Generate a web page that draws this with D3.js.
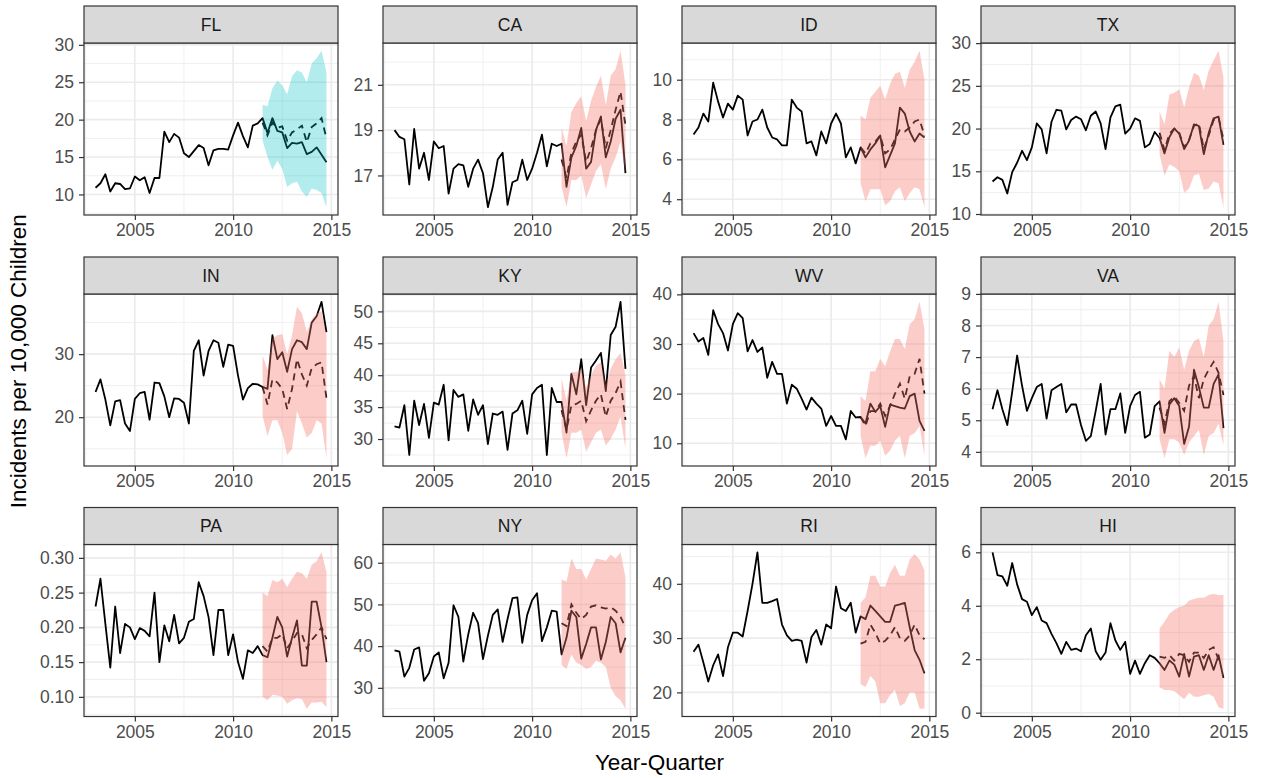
<!DOCTYPE html>
<html>
<head>
<meta charset="utf-8">
<script src="https://cdn.jsdelivr.net/npm/d3@7"></script>
<style>
  body { margin: 0; background: #fff; }
  svg text { font-family: "Liberation Sans", Arial, Helvetica, sans-serif; }
</style>
</head>
<body>
<svg id="chart" width="1267" height="778"></svg>
<script>
var width = 1267;
var height = 778;

// quarterly series 2003 Q1 .. 2014 Q4, forecast from 2011 Q3
var states = ["FL", "CA", "ID", "TX", "IN", "KY", "WV", "VA", "PA", "NY", "RI", "HI"];
var xTicks = [2005, 2010, 2015];

var FL_obs = [10.9, 11.5, 12.7, 10.4, 11.5, 11.4, 10.7, 10.8, 12.4, 11.9, 12.3, 10.2, 12.2, 12.2, 18.4, 17.0, 18.1, 17.6, 15.5, 15.0, 15.8, 16.6, 16.2, 13.9, 15.9, 16.1, 16.1, 16.0, 17.9, 19.6, 17.8, 16.3, 19.2, 19.5, 20.2, 18.2, 20.2, 18.5, 18.3, 16.2, 16.9, 16.8, 17.0, 15.4, 15.7, 16.3, 15.3, 14.3];
var FL_fit = [19.6, 17.9, 19.6, 18.9, 19.1, 17.2, 18.3, 18.7, 19.2, 17.0, 19.0, 19.5, 20.2, 17.5];
var FL_lo = [17.2, 15.0, 13.3, 14.5, 13.4, 11.0, 11.5, 11.7, 10.4, 9.7, 10.8, 10.6, 10.2, 8.3];
var FL_hi = [22.0, 21.8, 24.2, 25.2, 24.6, 23.4, 25.8, 26.6, 26.3, 25.0, 27.5, 28.2, 29.2, 26.3];
var FL_ticks = [10, 15, 20, 25, 30];

var CA_obs = [19.0, 18.7, 18.6, 16.6, 19.05, 17.3, 18.0, 16.8, 18.5, 18.2, 18.3, 16.2, 17.3, 17.5, 17.45, 16.5, 17.3, 17.7, 17.1, 15.6, 16.5, 17.7, 18.0, 15.7, 16.7, 16.8, 17.7, 16.8, 17.3, 18.0, 18.8, 17.4, 18.4, 18.3, 18.4, 16.5, 17.8, 18.3, 19.1, 17.3, 17.6, 19.0, 19.6, 17.8, 18.5, 19.5, 19.9, 17.1];
var CA_fit = [17.7, 16.9, 18.0, 18.5, 18.8, 17.6, 18.2, 19.0, 19.5, 18.2, 19.0, 19.9, 20.7, 19.2];
var CA_lo = [16.5, 15.6, 16.8, 16.8, 17.0, 16.0, 16.6, 17.2, 17.5, 16.4, 17.3, 17.8, 18.5, 17.1];
var CA_hi = [19.1, 18.3, 19.8, 20.2, 20.5, 19.4, 20.3, 20.9, 21.4, 20.1, 21.4, 21.7, 22.5, 21.0];
var CA_ticks = [17, 19, 21];

var ID_obs = [7.25, 7.6, 8.3, 7.9, 9.85, 8.9, 8.1, 8.8, 8.5, 9.2, 9.0, 7.2, 7.9, 8.0, 8.5, 7.6, 7.1, 7.0, 6.7, 6.7, 9.0, 8.6, 8.4, 6.8, 6.9, 6.2, 7.4, 6.8, 7.8, 8.3, 7.8, 6.1, 6.6, 5.8, 6.6, 6.1, 6.5, 6.8, 7.2, 5.6, 6.2, 6.8, 8.6, 8.3, 7.4, 6.9, 7.3, 7.1];
var ID_fit = [6.6, 6.3, 6.8, 6.9, 7.2, 6.3, 6.5, 7.0, 7.5, 7.4, 7.6, 7.9, 8.0, 7.2];
var ID_lo = [4.8, 3.9, 4.5, 4.5, 4.5, 3.7, 3.9, 4.4, 4.6, 3.9, 4.3, 4.6, 4.5, 3.6];
var ID_hi = [8.2, 8.0, 9.1, 9.4, 9.7, 9.0, 9.8, 10.3, 10.4, 9.6, 10.5, 10.9, 11.45, 10.0];
var ID_ticks = [4, 6, 8, 10];

var TX_obs = [13.8, 14.3, 14.0, 12.4, 14.9, 16.0, 17.4, 16.3, 17.8, 20.6, 19.9, 17.1, 20.8, 22.2, 22.1, 19.9, 21.0, 21.4, 21.1, 19.8, 21.5, 22.0, 20.6, 17.6, 21.3, 22.6, 22.8, 19.4, 20.0, 21.2, 20.9, 17.8, 18.2, 19.6, 18.9, 17.1, 19.0, 20.0, 19.4, 17.6, 18.6, 20.5, 20.3, 17.0, 19.5, 21.2, 21.4, 18.1];
var TX_fit = [19.5, 17.5, 19.4, 20.0, 19.5, 17.8, 18.7, 20.3, 20.6, 17.6, 19.2, 21.0, 21.3, 18.7];
var TX_lo = [17.0, 14.5, 15.8, 15.5, 15.0, 12.5, 13.0, 14.5, 14.7, 12.8, 13.0, 13.8, 13.6, 10.8];
var TX_hi = [22.0, 20.5, 24.0, 24.2, 24.6, 22.5, 24.8, 26.5, 26.2, 24.5, 26.8, 28.0, 29.1, 26.0];
var TX_ticks = [10, 15, 20, 25, 30];

var IN_obs = [24.0, 26.0, 22.8, 18.7, 22.5, 22.7, 19.0, 17.8, 22.9, 23.8, 24.0, 19.6, 25.5, 25.4, 23.3, 20.0, 23.0, 22.9, 22.3, 19.0, 30.5, 32.2, 26.6, 30.5, 32.2, 31.8, 28.0, 31.5, 31.3, 26.6, 22.8, 24.6, 25.3, 25.2, 24.8, 24.5, 33.0, 29.2, 30.3, 27.2, 30.8, 32.2, 31.9, 30.8, 35.0, 36.0, 38.3, 33.5];
var IN_fit = [24.8, 22.0, 26.0, 25.5, 24.5, 21.3, 24.5, 29.2, 26.8, 25.0, 27.8, 28.4, 28.7, 23.0];
var IN_lo = [20.2, 17.0, 19.5, 19.5, 17.5, 14.0, 15.0, 21.0, 19.0, 16.8, 17.5, 19.5, 19.0, 13.5];
var IN_hi = [29.8, 27.5, 32.5, 33.0, 33.2, 30.0, 33.0, 37.5, 36.5, 33.5, 35.5, 36.5, 36.8, 33.0];
var IN_ticks = [20, 30];

var KY_obs = [32.0, 31.8, 35.3, 27.5, 36.0, 32.2, 35.5, 30.2, 35.7, 35.4, 38.5, 29.8, 37.7, 36.6, 37.0, 31.3, 36.2, 33.8, 35.3, 29.2, 34.0, 33.8, 34.3, 28.3, 34.0, 34.5, 36.0, 30.8, 37.0, 38.0, 38.5, 27.5, 38.0, 35.8, 35.8, 31.0, 40.2, 37.0, 42.5, 35.3, 41.2, 42.3, 43.5, 37.5, 46.3, 47.6, 51.5, 41.0];
var KY_fit = [34.5, 31.5, 35.3, 35.5, 36.0, 32.8, 34.5, 36.0, 37.0, 33.5, 36.0, 37.2, 39.0, 33.0];
var KY_lo = [31.0, 27.0, 31.0, 31.0, 31.5, 28.0, 29.5, 31.0, 31.5, 29.0, 30.0, 31.5, 33.5, 28.5];
var KY_hi = [39.5, 36.0, 40.5, 40.5, 41.0, 38.0, 40.0, 41.5, 42.0, 38.5, 41.0, 42.5, 43.5, 40.0];
var KY_ticks = [30, 35, 40, 45, 50];

var WV_obs = [32.2, 30.5, 31.2, 27.8, 36.8, 34.0, 32.2, 28.7, 34.0, 36.2, 35.2, 28.5, 30.8, 28.4, 29.3, 23.2, 26.4, 24.0, 24.0, 18.0, 21.8, 21.0, 19.0, 16.8, 19.2, 18.0, 17.0, 13.5, 15.5, 13.5, 13.5, 10.8, 16.5, 15.2, 15.3, 14.0, 18.0, 16.3, 17.5, 13.3, 17.8, 17.5, 17.2, 17.0, 19.5, 20.0, 14.5, 12.5];
var WV_fit = [15.3, 13.5, 16.5, 16.5, 18.0, 15.5, 17.5, 20.0, 22.0, 19.0, 23.5, 24.0, 27.0, 20.0];
var WV_lo = [11.5, 7.0, 9.5, 9.5, 10.5, 7.5, 8.5, 10.5, 11.5, 7.0, 11.5, 12.0, 13.5, 7.5];
var WV_hi = [19.5, 18.5, 24.5, 24.5, 27.0, 25.5, 28.5, 31.0, 31.0, 29.0, 34.0, 35.0, 38.5, 33.0];
var WV_ticks = [10, 20, 30, 40];

var VA_obs = [5.35, 5.95, 5.35, 4.85, 5.9, 7.05, 6.1, 5.3, 5.7, 6.05, 6.15, 5.05, 5.95, 6.05, 6.15, 5.25, 5.5, 5.5, 4.85, 4.35, 4.5, 5.3, 6.15, 4.55, 5.35, 5.35, 5.85, 4.6, 5.45, 5.8, 5.9, 4.45, 4.55, 5.45, 5.6, 4.6, 5.5, 5.7, 5.45, 4.25, 4.8, 6.6, 6.05, 5.4, 5.4, 6.15, 6.45, 4.75];
var VA_fit = [5.4, 4.9, 5.6, 5.75, 5.55, 5.3, 6.1, 6.4, 5.7, 6.3, 6.6, 6.85, 6.5, 5.8];
var VA_lo = [4.4, 3.8, 4.4, 4.4, 4.3, 3.9, 4.3, 4.5, 4.7, 3.9, 4.5, 4.6, 4.9, 4.2];
var VA_hi = [6.3, 6.0, 7.2, 7.0, 7.3, 6.6, 7.2, 7.5, 7.6, 7.0, 8.0, 8.2, 8.75, 7.5];
var VA_ticks = [4, 5, 6, 7, 8, 9];

var PA_obs = [0.230, 0.270, 0.205, 0.142, 0.230, 0.163, 0.205, 0.200, 0.183, 0.199, 0.195, 0.187, 0.250, 0.150, 0.203, 0.180, 0.218, 0.177, 0.185, 0.208, 0.212, 0.265, 0.245, 0.215, 0.160, 0.225, 0.225, 0.160, 0.190, 0.150, 0.126, 0.167, 0.163, 0.173, 0.160, 0.157, 0.185, 0.215, 0.200, 0.158, 0.185, 0.210, 0.145, 0.145, 0.237, 0.237, 0.200, 0.150];
var PA_fit = [0.173, 0.165, 0.185, 0.185, 0.190, 0.170, 0.180, 0.192, 0.190, 0.170, 0.182, 0.190, 0.200, 0.183];
var PA_lo = [0.100, 0.095, 0.103, 0.102, 0.100, 0.090, 0.095, 0.098, 0.097, 0.083, 0.092, 0.092, 0.093, 0.085];
var PA_hi = [0.250, 0.245, 0.268, 0.265, 0.270, 0.258, 0.270, 0.280, 0.278, 0.270, 0.290, 0.295, 0.308, 0.280];
var PA_ticks = [0.10, 0.15, 0.20, 0.25, 0.30];

var NY_obs = [39.0, 38.7, 32.7, 34.8, 39.2, 39.7, 31.7, 33.5, 37.5, 38.5, 32.3, 36.0, 49.8, 47.0, 36.3, 42.8, 48.0, 45.5, 36.9, 42.5, 47.5, 48.8, 41.0, 46.5, 51.5, 51.7, 40.8, 47.5, 51.0, 52.7, 41.2, 44.5, 48.5, 48.3, 38.0, 42.0, 48.5, 47.0, 37.0, 40.5, 44.5, 44.5, 36.8, 41.0, 47.0, 45.5, 38.5, 42.0];
var NY_fit = [45.5, 44.8, 50.0, 48.0, 46.5, 47.5, 49.5, 49.8, 49.3, 49.0, 49.3, 48.5, 47.0, 44.5];
var NY_lo = [35.5, 34.5, 38.0, 36.0, 35.5, 34.5, 35.0, 36.5, 36.0, 35.0, 30.0, 28.0, 27.0, 25.0];
var NY_hi = [56.0, 55.5, 61.0, 58.5, 58.5, 56.0, 58.5, 61.0, 60.8, 60.5, 62.0, 61.0, 62.5, 56.5];
var NY_ticks = [30, 40, 50, 60];

var RI_obs = [27.5, 28.8, 25.5, 22.0, 25.0, 27.0, 23.0, 28.3, 31.0, 31.0, 30.3, 35.0, 40.0, 45.8, 36.5, 36.5, 36.8, 37.2, 32.5, 30.5, 29.5, 29.7, 29.5, 25.5, 30.2, 31.5, 28.8, 32.5, 31.8, 39.5, 35.5, 35.0, 36.5, 31.0, 34.0, 33.5, 36.0, 35.0, 34.0, 33.0, 33.0, 36.0, 36.2, 36.5, 32.0, 27.8, 26.0, 23.5];
var RI_fit = [29.0, 29.3, 32.5, 31.0, 29.0, 29.5, 30.5, 32.0, 30.0, 29.5, 30.5, 32.5, 30.5, 29.8];
var RI_lo = [21.5, 21.0, 23.0, 22.0, 18.0, 18.0, 19.5, 20.5, 17.5, 18.0, 20.0, 20.0, 17.0, 17.0];
var RI_hi = [36.5, 37.5, 41.5, 41.5, 39.5, 39.5, 42.0, 43.5, 41.5, 41.5, 44.5, 45.5, 44.5, 42.5];
var RI_ticks = [20, 30, 40];

var HI_obs = [6.0, 5.15, 5.1, 4.75, 5.6, 4.8, 4.25, 4.15, 3.65, 3.95, 3.45, 3.35, 2.95, 2.6, 2.2, 2.65, 2.35, 2.4, 2.3, 2.9, 3.15, 2.3, 1.98, 2.25, 3.35, 2.7, 2.35, 2.65, 1.45, 1.95, 1.45, 1.85, 2.15, 2.05, 1.85, 1.6, 1.95, 1.8, 1.35, 2.2, 1.35, 2.1, 2.15, 1.6, 2.15, 1.6, 2.15, 1.3];
var HI_fit = [2.1, 2.05, 2.15, 1.95, 2.2, 2.15, 1.9, 2.25, 2.25, 2.05, 2.35, 2.45, 2.0, 2.1];
var HI_lo = [0.95, 0.85, 0.85, 0.8, 0.65, 0.5, 0.75, 0.6, 0.6, 0.65, 0.7, 0.6, 0.2, 0.15];
var HI_hi = [3.15, 3.4, 3.7, 3.85, 3.95, 4.0, 4.2, 4.25, 4.3, 4.3, 4.4, 4.45, 4.4, 4.4];
var HI_ticks = [0, 2, 4, 6];

var series = {
	FL: [FL_obs, FL_fit, FL_lo, FL_hi, FL_ticks],
	CA: [CA_obs, CA_fit, CA_lo, CA_hi, CA_ticks],
	ID: [ID_obs, ID_fit, ID_lo, ID_hi, ID_ticks],
	TX: [TX_obs, TX_fit, TX_lo, TX_hi, TX_ticks],
	IN: [IN_obs, IN_fit, IN_lo, IN_hi, IN_ticks],
	KY: [KY_obs, KY_fit, KY_lo, KY_hi, KY_ticks],
	WV: [WV_obs, WV_fit, WV_lo, WV_hi, WV_ticks],
	VA: [VA_obs, VA_fit, VA_lo, VA_hi, VA_ticks],
	PA: [PA_obs, PA_fit, PA_lo, PA_hi, PA_ticks],
	NY: [NY_obs, NY_fit, NY_lo, NY_hi, NY_ticks],
	RI: [RI_obs, RI_fit, RI_lo, RI_hi, RI_ticks],
	HI: [HI_obs, HI_fit, HI_lo, HI_hi, HI_ticks]
};

// time index for each quarter
var times = d3.range(48).map(function(i) { return 2003 + i / 4; });
var fcStart = 34;

var colLeft = [84, 383, 682, 981];
var rowTop = [43, 294, 544.5];
var pw = 254, ph = 172, stripH = 37;

var svg = d3.select("#chart");

var xPad = (times[47] - times[0]) * 0.05;
var xScale = d3.scaleLinear()
	.domain([times[0] - xPad, times[47] + xPad])
	.range([0, pw]);

states.forEach(function(st, k) {
	var s = series[st];
	var obs = s[0], fit = s[1], lo = s[2], hi = s[3], ticks = s[4];
	var all = obs.concat(fit, lo, hi);
	var ext = d3.extent(all);
	var pad = (ext[1] - ext[0]) * 0.05;
	var yScale = d3.scaleLinear().domain([ext[0] - pad, ext[1] + pad]).range([ph, 0]);

	var g = svg.append("g")
		.attr("transform", "translate(" + colLeft[k % 4] + "," + rowTop[Math.floor(k / 4)] + ")");

	g.append("rect").attr("width", pw).attr("height", ph).attr("fill", "#fff");

	// minor grid
	var step = ticks[1] - ticks[0];
	var yMinor = [ticks[0] - step / 2].concat(ticks.map(function(t) { return t + step / 2; }))
		.filter(function(v) { return v >= yScale.domain()[0] && v <= yScale.domain()[1]; });
	var xMinor = [2002.5, 2007.5, 2012.5];

	g.selectAll(".ymin").data(yMinor).enter().append("line")
		.attr("x1", 0).attr("x2", pw)
		.attr("y1", function(d) { return yScale(d); }).attr("y2", function(d) { return yScale(d); })
		.attr("stroke", "#ebebeb").attr("stroke-width", 0.8);
	g.selectAll(".xmin").data(xMinor).enter().append("line")
		.attr("y1", 0).attr("y2", ph)
		.attr("x1", function(d) { return xScale(d); }).attr("x2", function(d) { return xScale(d); })
		.attr("stroke", "#ebebeb").attr("stroke-width", 0.8);

	// major grid
	g.selectAll(".ymaj").data(ticks).enter().append("line")
		.attr("x1", 0).attr("x2", pw)
		.attr("y1", function(d) { return yScale(d); }).attr("y2", function(d) { return yScale(d); })
		.attr("stroke", "#ebebeb").attr("stroke-width", 1.6);
	g.selectAll(".xmaj").data(xTicks).enter().append("line")
		.attr("y1", 0).attr("y2", ph)
		.attr("x1", function(d) { return xScale(d); }).attr("x2", function(d) { return xScale(d); })
		.attr("stroke", "#ebebeb").attr("stroke-width", 1.6);

	// observed line
	var line = d3.line()
		.x(function(d, i) { return xScale(times[i]); })
		.y(function(d) { return yScale(d); });
	g.append("path").datum(obs)
		.attr("d", line)
		.attr("fill", "none").attr("stroke", "#000").attr("stroke-width", 1.8)
		.attr("stroke-linejoin", "round");

	// forecast
	var fline = d3.line()
		.x(function(d, i) { return xScale(times[fcStart + i]); })
		.y(function(d) { return yScale(d); });
	g.append("path").datum(fit)
		.attr("d", fline)
		.attr("fill", "none").attr("stroke", "#000").attr("stroke-width", 1.8)
		.attr("stroke-dasharray", "7,5");

	// interval ribbon on top
	var area = d3.area()
		.x(function(d, i) { return xScale(times[fcStart + i]); })
		.y0(function(d, i) { return yScale(lo[i]); })
		.y1(function(d, i) { return yScale(hi[i]); });
	g.append("path").datum(fit)
		.attr("d", area)
		.attr("fill", st == "FL" ? "#00BFC4" : "#F8766D")
		.attr("fill-opacity", st == "FL" ? 0.3 : 0.37);

	// border
	g.append("rect").attr("width", pw).attr("height", ph)
		.attr("fill", "none").attr("stroke", "#333").attr("stroke-width", 1.2);

	// y axis
	var yAxis = d3.axisLeft(yScale).tickValues(ticks).tickSize(5).tickPadding(5)
		.tickFormat(st == "PA" ? d3.format(".2f") : d3.format("d"));
	var ya = g.append("g").call(yAxis);
	ya.select(".domain").remove();
	ya.selectAll("line").attr("stroke", "#333").attr("stroke-width", 1.2);
	ya.selectAll("text").attr("fill", "#4d4d4d").style("font-size", "17.5px");

	// x axis
	var xAxis = d3.axisBottom(xScale).tickValues(xTicks).tickSize(5).tickPadding(4)
		.tickFormat(d3.format("d"));
	var xa = g.append("g").attr("transform", "translate(0," + ph + ")").call(xAxis);
	xa.select(".domain").remove();
	xa.selectAll("line").attr("stroke", "#333").attr("stroke-width", 1.2);
	xa.selectAll("text").attr("fill", "#4d4d4d").style("font-size", "17.5px");

	// strip
	g.append("rect").attr("y", -stripH).attr("width", pw).attr("height", stripH)
		.attr("fill", "#d9d9d9").attr("stroke", "#333").attr("stroke-width", 1.2);
	g.append("text")
		.attr("x", pw / 2).attr("y", -stripH / 2)
		.attr("dy", "0.35em")
		.attr("text-anchor", "middle")
		.attr("fill", "#1a1a1a")
		.style("font-size", "17.5px")
		.text(st);
});

svg.append("text")
	.attr("x", (colLeft[0] + colLeft[3] + pw) / 2)
	.attr("y", 770)
	.attr("text-anchor", "middle")
	.attr("fill", "#000")
	.style("font-size", "22.5px")
	.text("Year-Quarter");

svg.append("text")
	.attr("transform", "translate(26," + ((rowTop[0] - stripH + rowTop[2] + ph) / 2) + ") rotate(-90)")
	.attr("text-anchor", "middle")
	.attr("fill", "#000")
	.style("font-size", "22.5px")
	.text("Incidents per 10,000 Children");
</script>
</body>
</html>
